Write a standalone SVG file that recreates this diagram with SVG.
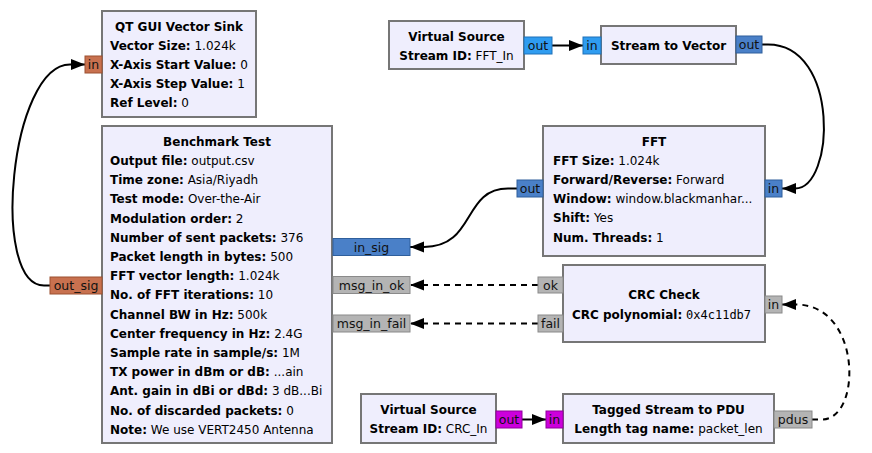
<svg xmlns="http://www.w3.org/2000/svg" width="872" height="453" viewBox="0 0 872 453">
<defs>
<style>
.blk{fill:#efeefd;stroke:#767676;stroke-width:2}
.t{font-family:"DejaVu Sans",sans-serif;font-size:12px;fill:#000}
.b{font-weight:bold}
.c{text-anchor:middle}
.m{font-family:"DejaVu Sans Mono",monospace}
.pl{font-family:"DejaVu Sans",sans-serif;font-size:12.5px;fill:#111;text-anchor:middle}
.pf{fill:#c8714f;stroke:#9c5030;stroke-width:1}
.pc{fill:#4a80c8;stroke:#2f5f9c;stroke-width:1}
.ps{fill:#2f9cf0;stroke:#1f70b8;stroke-width:1}
.pb{fill:#cc00dc;stroke:#90009c;stroke-width:1}
.pm{fill:#b4b4b4;stroke:#8a8a8a;stroke-width:1}
.cn{fill:none;stroke:#000;stroke-width:2;marker-end:url(#ah)}
.dash{stroke-dasharray:6,5}
</style>
<marker id="ah" markerUnits="userSpaceOnUse" markerWidth="15" markerHeight="12" refX="14" refY="6" orient="auto">
<path d="M0,0.5 L14,6 L0,11.5 z" fill="#000"/>
</marker>
</defs>

<g id="connectors">
<path class="cn" d="M50,285.5 H44 C-10,285.5 10,64.5 70,64.5 H85"/>
<path class="cn" d="M552,45.5 H583"/>
<path class="cn" d="M762,44.5 H768 C840,44.5 835,188.5 795,188.5 H782"/>
<path class="cn" d="M517,188.5 H508 C462,188.5 476,247 424,247 H410"/>
<path class="cn dash" d="M538,285 H410"/>
<path class="cn dash" d="M538,323.5 H410"/>
<path class="cn" d="M522,419.5 H546"/>
<path class="cn dash" d="M812,419.5 H822 C862,419.5 862,304.5 796,304.5 H782"/>
</g>

<g id="qt_gui_vector_sink">
<rect class="blk" x="102" y="11" width="154" height="106"/>
<text class="t b c" x="179" y="31">QT GUI Vector Sink</text>
<text class="t" x="110" y="50"><tspan class="b">Vector Size:</tspan> 1.024k</text>
<text class="t" x="110" y="69"><tspan class="b">X-Axis Start Value:</tspan> 0</text>
<text class="t" x="110" y="88"><tspan class="b">X-Axis Step Value:</tspan> 1</text>
<text class="t" x="110" y="107"><tspan class="b">Ref Level:</tspan> 0</text>
<rect class="pf" x="85" y="56" width="17" height="17"/>
<text class="pl" x="93.5" y="69">in</text>
</g>

<g id="benchmark_test">
<rect class="blk" x="102" y="126" width="230" height="317"/>
<text class="t b c" x="217" y="146">Benchmark Test</text>
<text class="t" x="110" y="165"><tspan class="b">Output file:</tspan> output.csv</text>
<text class="t" x="110" y="184.2"><tspan class="b">Time zone:</tspan> Asia/Riyadh</text>
<text class="t" x="110" y="203.4"><tspan class="b">Test mode:</tspan> Over-the-Air</text>
<text class="t" x="110" y="222.6"><tspan class="b">Modulation order:</tspan> 2</text>
<text class="t" x="110" y="241.8"><tspan class="b">Number of sent packets:</tspan> 376</text>
<text class="t" x="110" y="261"><tspan class="b">Packet length in bytes:</tspan> 500</text>
<text class="t" x="110" y="280.2"><tspan class="b">FFT vector length:</tspan> 1.024k</text>
<text class="t" x="110" y="299.4"><tspan class="b">No. of FFT iterations:</tspan> 10</text>
<text class="t" x="110" y="318.6"><tspan class="b">Channel BW in Hz:</tspan> 500k</text>
<text class="t" x="110" y="337.8"><tspan class="b">Center frequency in Hz:</tspan> 2.4G</text>
<text class="t" x="110" y="357"><tspan class="b">Sample rate in sample/s:</tspan> 1M</text>
<text class="t" x="110" y="376.2"><tspan class="b">TX power in dBm or dB:</tspan> ...ain</text>
<text class="t" x="110" y="395.4"><tspan class="b">Ant. gain in dBi or dBd:</tspan> 3 dB...Bi</text>
<text class="t" x="110" y="414.6"><tspan class="b">No. of discarded packets:</tspan> 0</text>
<text class="t" x="110" y="433.8"><tspan class="b">Note:</tspan> We use VERT2450 Antenna</text>
<rect class="pf" x="50" y="277" width="52" height="17"/>
<text class="pl" x="76" y="290">out_sig</text>
<rect class="pc" x="333" y="238.5" width="77" height="17"/>
<text class="pl" x="371.5" y="251.5">in_sig</text>
<rect class="pm" x="333" y="276.5" width="77" height="17"/>
<text class="pl" x="371.5" y="289.5">msg_in_ok</text>
<rect class="pm" x="333" y="315" width="77" height="17"/>
<text class="pl" x="371.5" y="328">msg_in_fail</text>
</g>

<g id="virtual_source_fft">
<rect class="blk" x="389" y="21" width="135" height="48"/>
<text class="t b c" x="456.5" y="40.5">Virtual Source</text>
<text class="t c" x="456.5" y="59.5"><tspan class="b">Stream ID:</tspan> FFT_In</text>
<rect class="ps" x="524" y="37" width="28" height="17"/>
<text class="pl" x="538" y="50">out</text>
</g>

<g id="stream_to_vector">
<rect class="blk" x="601" y="26" width="135" height="38"/>
<text class="t b c" x="668.5" y="49.5">Stream to Vector</text>
<rect class="ps" x="583" y="37" width="18" height="17"/>
<text class="pl" x="592" y="50">in</text>
<rect class="pc" x="736" y="36" width="26" height="17"/>
<text class="pl" x="749" y="49">out</text>
</g>

<g id="fft">
<rect class="blk" x="543" y="126" width="222" height="130"/>
<text class="t b c" x="654" y="145.5">FFT</text>
<text class="t" x="553" y="165"><tspan class="b">FFT Size:</tspan> 1.024k</text>
<text class="t" x="553" y="184"><tspan class="b">Forward/Reverse:</tspan> Forward</text>
<text class="t" x="553" y="203"><tspan class="b">Window:</tspan> window.blackmanhar...</text>
<text class="t" x="553" y="222"><tspan class="b">Shift:</tspan> Yes</text>
<text class="t" x="553" y="241.5"><tspan class="b">Num. Threads:</tspan> 1</text>
<rect class="pc" x="517" y="180" width="26" height="17"/>
<text class="pl" x="530" y="193">out</text>
<rect class="pc" x="765" y="180" width="17" height="17"/>
<text class="pl" x="773.5" y="193">in</text>
</g>

<g id="crc_check">
<rect class="blk" x="563" y="265" width="202" height="77"/>
<text class="t b c" x="664" y="299">CRC Check</text>
<text class="t" x="572" y="318.5"><tspan class="b">CRC polynomial:</tspan> <tspan class="m">0x4c11db7</tspan></text>
<rect class="pm" x="538" y="277" width="25" height="16"/>
<text class="pl" x="550.5" y="289.5">ok</text>
<rect class="pm" x="538" y="315" width="25" height="17"/>
<text class="pl" x="550.5" y="328">fail</text>
<rect class="pm" x="765" y="296" width="17" height="17"/>
<text class="pl" x="773.5" y="309">in</text>
</g>

<g id="virtual_source_crc">
<rect class="blk" x="361" y="394" width="135" height="49"/>
<text class="t b c" x="428.5" y="414">Virtual Source</text>
<text class="t c" x="428.5" y="433"><tspan class="b">Stream ID:</tspan> CRC_In</text>
<rect class="pb" x="496" y="411" width="26" height="17"/>
<text class="pl" x="509" y="424">out</text>
</g>

<g id="tagged_stream_to_pdu">
<rect class="blk" x="563" y="394" width="211" height="49"/>
<text class="t b c" x="668.5" y="414">Tagged Stream to PDU</text>
<text class="t c" x="668.5" y="433"><tspan class="b">Length tag name:</tspan> packet_len</text>
<rect class="pb" x="546" y="411" width="17" height="17"/>
<text class="pl" x="554.5" y="424">in</text>
<rect class="pm" x="774" y="411" width="38" height="17"/>
<text class="pl" x="793" y="424">pdus</text>
</g>
</svg>
